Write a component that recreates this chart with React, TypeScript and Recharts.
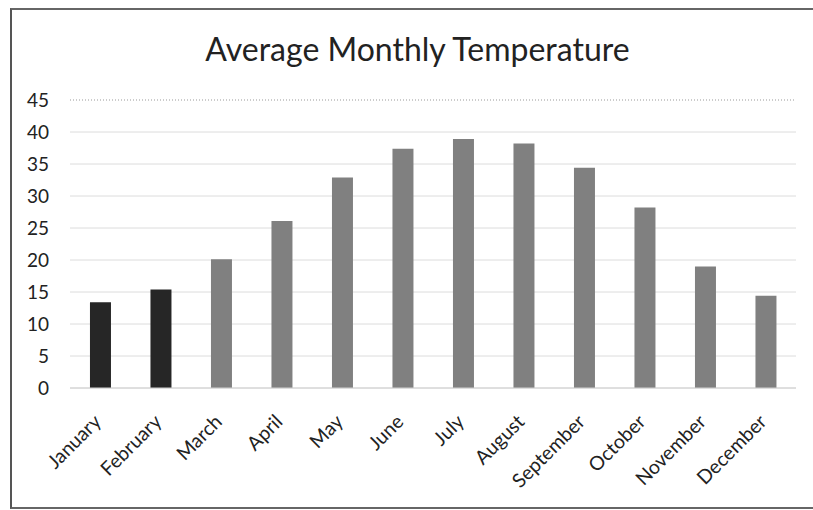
import { BarChart, Bar, XAxis, YAxis, CartesianGrid, ReferenceLine, Cell } from "recharts";

const months = [
  "January",
  "February",
  "March",
  "April",
  "May",
  "June",
  "July",
  "August",
  "September",
  "October",
  "November",
  "December",
];

const temperatures = [13.4, 15.4, 20.1, 26.1, 32.9, 37.4, 38.9, 38.2, 34.4, 28.2, 19.0, 14.4];

const yTicks = [0, 5, 10, 15, 20, 25, 30, 35, 40, 45];

// months printed darker in the original
const darkMonths = ["January", "February"];

const data = months.map((month, i) => ({ month, temp: temperatures[i] }));

const FONT = "Lato, 'Open Sans', sans-serif";

function MonthTick(props: any) {
  const { x, y, payload } = props;
  return (
    <g transform={`translate(${x + 2},${y + 35})`}>
      <text
        x={0}
        y={0}
        textAnchor="end"
        transform="rotate(-45)"
        fill="#222"
        fontSize={19.5}
        fontFamily={FONT}
      >
        {payload.value}
      </text>
    </g>
  );
}

export default function App() {
  return (
    <div
      style={{
        position: "absolute",
        left: 10,
        top: 8,
        width: 801,
        height: 497,
        overflow: "hidden",
        borderLeft: "2px solid #555",
        borderTop: "2px solid #666",
        borderBottom: "2px solid #666",
        background: "#fff",
      }}
    >
      <div
        style={{
          position: "absolute",
          left: 10,
          width: 791,
          top: 20,
          lineHeight: 1.2,
          textAlign: "center",
          fontFamily: FONT,
          fontSize: 32,
          color: "#222",
        }}
      >
        Average Monthly Temperature
      </div>
      <BarChart
        width={801}
        height={497}
        data={data}
        margin={{ top: 90, right: 17, left: 0, bottom: 0 }}
        barCategoryGap="33%"
      >
        <CartesianGrid vertical={false} stroke="#dcdcdc" />
        <ReferenceLine y={45} stroke="#fff" strokeWidth={2} />
        <ReferenceLine y={45} stroke="#999" strokeDasharray="1 2" />
        <XAxis
          dataKey="month"
          interval={0}
          height={119}
          tickLine={false}
          tickSize={0}
          tickMargin={0}
          axisLine={{ stroke: "#d0d0d0" }}
          tick={<MonthTick />}
        />
        <YAxis
          width={58}
          domain={[0, 45]}
          ticks={yTicks}
          tickLine={false}
          axisLine={false}
          tickSize={0}
          tickMargin={21}
          tick={{ fill: "#222", fontSize: 19, fontFamily: FONT }}
        />
        <Bar dataKey="temp" isAnimationActive={false}>
          {data.map((d) => (
            <Cell key={d.month} fill={darkMonths.includes(d.month) ? "#262626" : "#808080"} />
          ))}
        </Bar>
      </BarChart>
    </div>
  );
}
